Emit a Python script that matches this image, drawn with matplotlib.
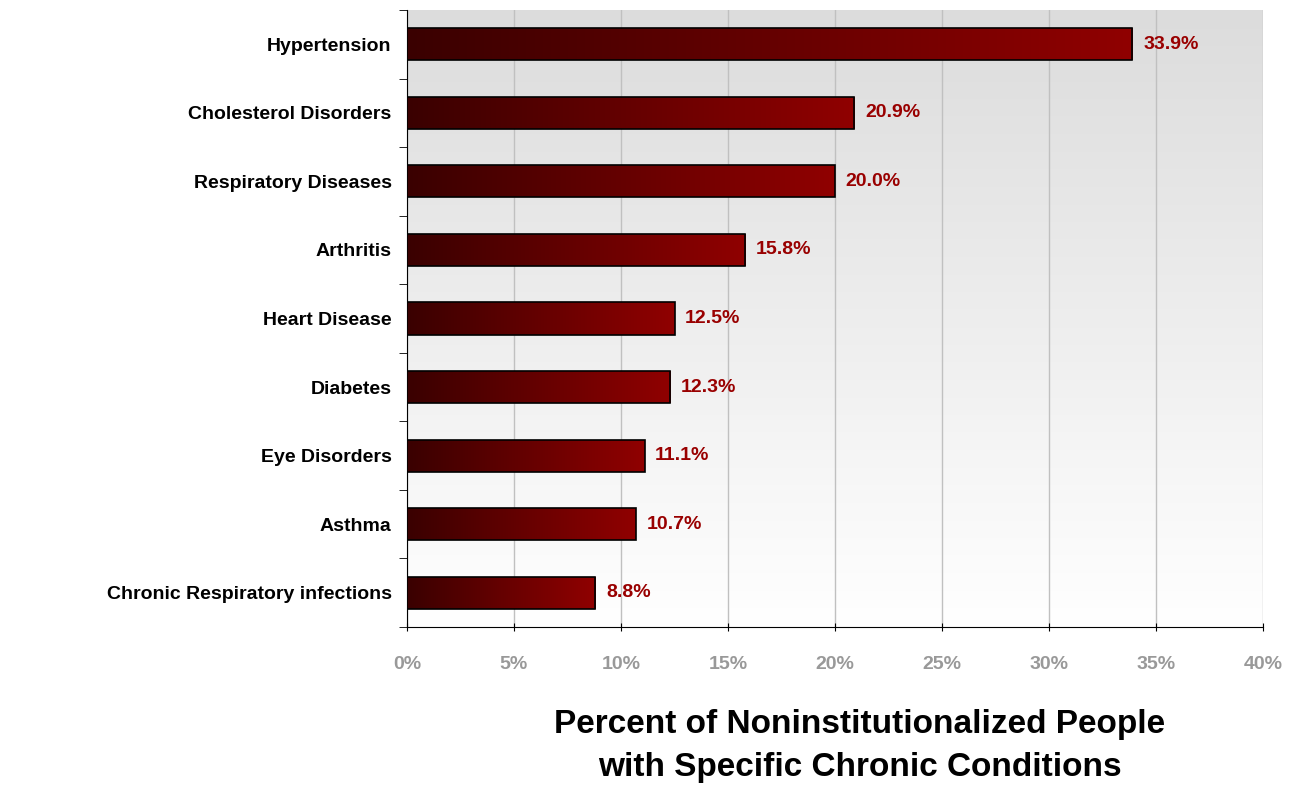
import numpy as np
import matplotlib.pyplot as plt
from matplotlib.colors import LinearSegmentedColormap
from matplotlib.patches import Rectangle

conditions = ['Hypertension', 'Cholesterol Disorders', 'Respiratory Diseases',
              'Arthritis', 'Heart Disease', 'Diabetes', 'Eye Disorders',
              'Asthma', 'Chronic Respiratory infections']
percent = [33.9, 20.9, 20.0, 15.8, 12.5, 12.3, 11.1, 10.7, 8.8]
xticks = [0, 5, 10, 15, 20, 25, 30, 35, 40]

plt.rcParams['font.family'] = ['Liberation Sans', 'DejaVu Sans']

fig = plt.figure(figsize=(12.9, 7.88), dpi=100)
ax = fig.add_axes([407/1290, 1 - 627/788, (1263-407)/1290, (627-10)/788])

n = len(conditions)

# background: grey at top fading to white at bottom
bg_cmap = LinearSegmentedColormap.from_list('bg', ['#dcdcdc', '#ffffff'])
ax.imshow(np.linspace(0, 1, 256).reshape(-1, 1), cmap=bg_cmap, aspect='auto',
          extent=[0, 40, n - 0.5, -0.5], zorder=0)

ax.set_xticks(xticks)
ax.set_xticklabels([f'{t}%' for t in xticks], color='#999999',
                   fontweight='bold', fontsize=14)
ax.grid(axis='x', color='#c0c0c0', linewidth=1, zorder=1)

# bars with left-to-right dark red gradient
bar_cmap = LinearSegmentedColormap.from_list('bar', ['#3a0000', '#900000'])
grad = np.linspace(0, 1, 256).reshape(1, -1)
h = 0.47
for i, (name, v) in enumerate(zip(conditions, percent)):
    rect = Rectangle((0, i - h/2), v, h, facecolor='none', edgecolor='black',
                     linewidth=1.2, zorder=4)
    ax.add_patch(rect)
    im = ax.imshow(grad, cmap=bar_cmap, aspect='auto',
                   extent=[0, v, i + h/2, i - h/2], zorder=3)
    im.set_clip_path(rect)
    ax.text(v + 0.5, i, f'{v:.1f}%', va='center', ha='left', color='#990000',
            fontweight='bold', fontsize=14, zorder=5)

ax.set_xlim(0, 40)
ax.set_ylim(n - 0.5, -0.5)

ax.set_yticks(range(n))
ax.set_yticklabels(conditions, fontweight='bold', fontsize=14)
ax.set_yticks(np.arange(-0.5, n, 1), minor=True)
ax.tick_params(axis='y', which='major', length=0, pad=11)
ax.tick_params(axis='y', which='minor', length=6, color='black')
ax.tick_params(axis='x', length=6, direction='inout', pad=18)

for s in ['top', 'right']:
    ax.spines[s].set_visible(False)
ax.spines['left'].set_color('black')
ax.spines['bottom'].set_color('black')

fig.text(860/1290, 1 - 746/788,
         'Percent of Noninstitutionalized People\nwith Specific Chronic Conditions',
         ha='center', va='center', fontsize=24, fontweight='bold',
         linespacing=1.5)

fig.savefig('out.png', dpi=100)
